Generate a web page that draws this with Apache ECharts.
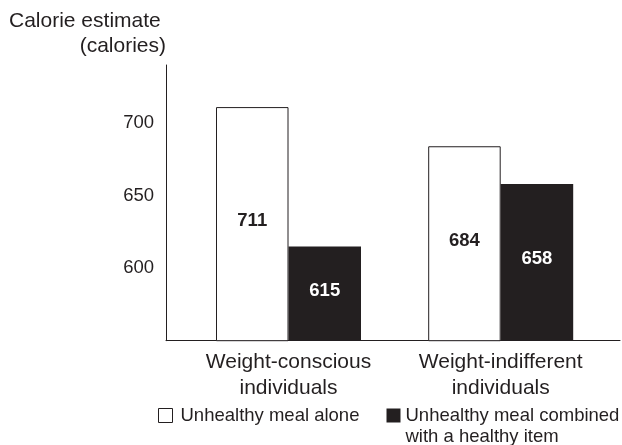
<!DOCTYPE html>
<html>
<head>
<meta charset="utf-8">
<script src="https://cdn.jsdelivr.net/npm/echarts@6/dist/echarts.min.js"></script>
<style>
html,body{margin:0;padding:0;background:#fff;}
#chart{width:622px;height:445px;}
</style>
</head>
<body>
<div id="chart"></div>
<script>
// ---- data ----
const categories = ['Weight-conscious\nindividuals', 'Weight-indifferent\nindividuals'];
const seriesNames = ['Unhealthy meal alone', 'Unhealthy meal combined with a healthy item'];
const aloneValues = [711, 684];
const combinedValues = [615, 658];
const yTickLabels = [600, 650, 700];
const yMin = 550, yMax = 740, yStep = 50;
const titleLines = ['Calorie estimate', '(calories)'];

const ink = '#231f20';
const FONT = 'Liberation Sans, Arial, Helvetica, sans-serif';

const chart = echarts.init(document.getElementById('chart'), null, {renderer: 'canvas'});
const option = {
  backgroundColor: '#fff',
  animation: false,
  textStyle: {fontFamily: FONT, color: ink},
  title: [
    {text: titleLines[0], left: 9, top: 11, padding: 0,
     textStyle: {fontFamily: FONT, fontSize: 21, fontWeight: 'normal', color: ink}},
    {text: titleLines[1], right: 456, top: 36, padding: 0,
     textStyle: {fontFamily: FONT, fontSize: 21, fontWeight: 'normal', color: ink}}
  ],
  legend: [
    {
      data: [{name: seriesNames[0], itemStyle: {color: '#fff', borderColor: ink, borderWidth: 1}}],
      left: 158, top: 406, padding: 0, itemWidth: 14, itemHeight: 14, icon: 'rect',
      selectedMode: false,
      textStyle: {fontFamily: FONT, fontSize: 18.5, color: ink, padding: [0, 0, 0, 3]}
    },
    {
      data: [{name: seriesNames[1], itemStyle: {color: ink}}],
      left: 386.5, top: 384, padding: 0, itemWidth: 14, itemHeight: 14, icon: 'rect',
      selectedMode: false,
      formatter: function () { return ' \nUnhealthy meal combined\nwith a healthy item'; },
      textStyle: {fontFamily: FONT, fontSize: 18.5, color: ink, lineHeight: 21}
    }
  ],
  grid: [
    {left: 166, right: 2, top: 65, bottom: 104.3, containLabel: false},
    {left: 182.4, right: 15.2, top: 65, bottom: 104.3, containLabel: false}
  ],
  xAxis: [
    {
      gridIndex: 0, type: 'value', min: 0, max: 1,
      axisLine: {show: true, lineStyle: {color: ink, width: 1}},
      axisTick: {show: false}, axisLabel: {show: false}, splitLine: {show: false}
    },
    {
      gridIndex: 1, type: 'category', data: categories,
      axisLine: {show: false}, axisTick: {show: false}, splitLine: {show: false},
      axisLabel: {interval: 0, margin: 9, fontFamily: FONT, fontSize: 21, lineHeight: 26, color: ink, align: 'center'}
    }
  ],
  yAxis: [
    {
      gridIndex: 0, type: 'value', min: yMin, max: yMax, interval: yStep,
      axisLine: {show: true, lineStyle: {color: ink, width: 1}},
      axisTick: {show: false}, splitLine: {show: false},
      axisLabel: {
        margin: 12, fontFamily: FONT, fontSize: 18.5, color: ink,
        formatter: function (v) { return yTickLabels.indexOf(v) >= 0 ? String(v) : ''; }
      }
    },
    {
      gridIndex: 1, type: 'value', min: yMin, max: yMax, interval: yStep, show: false,
      splitLine: {show: false}
    }
  ],
  series: [
    {
      name: seriesNames[0], type: 'bar', xAxisIndex: 1, yAxisIndex: 1,
      data: aloneValues, barWidth: 72.5, barGap: '0%',
      itemStyle: {color: '#fff', borderColor: ink, borderWidth: 1},
      label: {show: true, position: 'inside', offset: [0, -3], fontFamily: FONT, fontSize: 18.5, fontWeight: 'bold', color: ink}
    },
    {
      name: seriesNames[1], type: 'bar', xAxisIndex: 1, yAxisIndex: 1,
      data: combinedValues, barWidth: 72.5, barGap: '0%',
      itemStyle: {color: ink},
      label: {show: true, position: 'inside', offset: [0, -3], fontFamily: FONT, fontSize: 18.5, fontWeight: 'bold', color: '#fff'}
    }
  ]
};
chart.setOption(option);
</script>
</body>
</html>
